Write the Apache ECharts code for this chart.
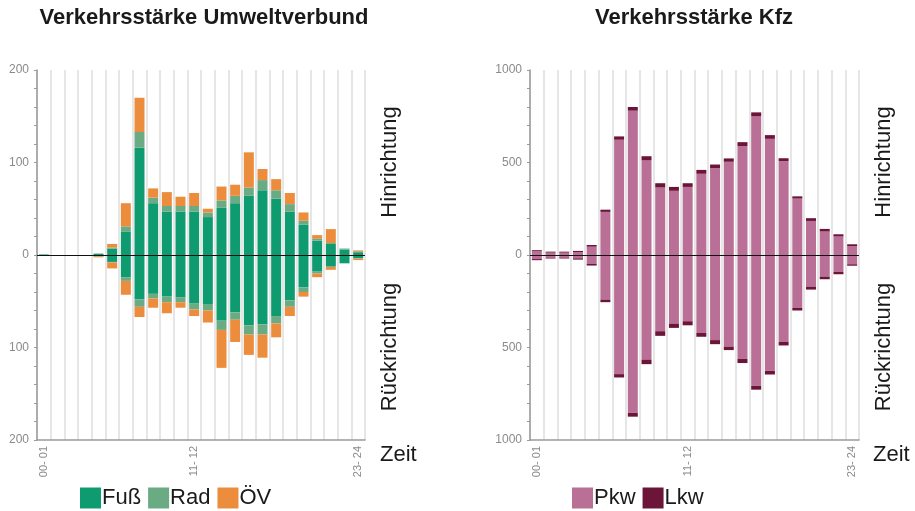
<!DOCTYPE html>
<html>
<head>
<meta charset="utf-8">
<script src="https://cdn.jsdelivr.net/npm/echarts@6/dist/echarts.min.js"></script>
<style>
  html, body { margin: 0; padding: 0; background: #fff; }
  #chart { width: 915px; height: 511px; }
</style>
</head>
<body>
<div id="chart"></div>
<script>
var hours = ['00- 01', '01- 02', '02- 03', '03- 04', '04- 05', '05- 06', '06- 07', '07- 08',
  '08- 09', '09- 10', '10- 11', '11- 12', '12- 13', '13- 14', '14- 15', '15- 16',
  '16- 17', '17- 18', '18- 19', '19- 20', '20- 21', '21- 22', '22- 23', '23- 24'];

// Umweltverbund, Hinrichtung (positiv)
var fussHin = [0.6, 0, 0, 0, 1.5, 7, 25, 116, 56, 47, 47, 47, 41, 51, 56, 64, 70, 61, 47, 33, 15.5, 12, 6, 3];
var radHin = [0, 0, 0, 0, 0, 1, 6, 17, 6, 6, 6, 6, 5, 8, 8, 9, 11, 9, 8, 4, 2, 1, 1, 1];
var oevHin = [0, 0, 0, 0, 0, 4, 25, 37, 10, 15, 10, 14, 4, 15, 12, 38, 12, 12, 12, 9, 4, 15, 0, 1];
// Umweltverbund, Rückrichtung (negativ)
var fussRueck = [-1, 0, 0, 0, -1.5, -7.5, -24, -48, -42, -45, -46, -52, -53, -71, -62, -76, -75, -66, -49, -35, -18, -12, -9, -3.5];
var radRueck = [0, 0, 0, 0, 0, -0.5, -4, -8, -5, -6, -5, -7, -7, -10, -8, -10, -11, -8, -7, -5, -2, -1, 0, -0.5];
var oevRueck = [0, 0, 0, 0, -1, -6.5, -15, -11, -10, -12, -6, -7, -13, -41, -24, -22, -25, -15, -10, -5, -4, -3, 0, -1.5];

// Kfz
var pkwHin = [20, 13, 13, 16, 45, 233, 623, 780, 513, 365, 347, 368, 439, 469, 504, 588, 751, 628, 507, 305, 184, 127, 100, 47];
var lkwHin = [6, 5, 5, 6, 9, 12, 18, 20, 21, 23, 21, 20, 21, 20, 18, 22, 20, 20, 16, 12, 15, 14, 12, 11];
var pkwRueck = [-22, -14, -14, -18, -47, -241, -644, -853, -567, -412, -371, -358, -421, -460, -495, -561, -707, -626, -469, -286, -171, -117, -92, -50];
var lkwRueck = [-6, -5, -5, -7, -10, -14, -18, -21, -23, -25, -23, -22, -21, -22, -19, -23, -21, -20, -20, -14, -16, -14, -12, -8];

var shownLabels = [0, 11, 23];

var chartDom = document.getElementById('chart');
var myChart = echarts.init(chartDom);
var font = 'Liberation Sans, Arial, sans-serif';
var colors = { fuss: '#0f9b70', rad: '#6aab84', oev: '#ec8d3d', pkw: '#b96f96', lkw: '#6c1538' };

function xAxisFor(gridIndex) {
  return {
    type: 'category',
    gridIndex: gridIndex,
    data: hours,
    axisLine: { onZero: false, lineStyle: { color: '#9a9a9a', width: 1.5 } },
    axisTick: { show: false },
    splitLine: { show: true, interval: 0, lineStyle: { color: '#e6e6e6', width: 2 } },
    axisLabel: {
      rotate: 90,
      color: '#8a8a8a',
      fontFamily: font,
      fontSize: 11,
      margin: 6,
      interval: function (index) { return shownLabels.indexOf(index) >= 0; }
    }
  };
}

function yAxisFor(gridIndex, max, interval) {
  return {
    type: 'value',
    gridIndex: gridIndex,
    min: -max,
    max: max,
    interval: interval,
    axisLine: { show: true, lineStyle: { color: '#9a9a9a', width: 1.5 } },
    axisTick: { show: true, length: 3, lineStyle: { color: '#9a9a9a' } },
    minorTick: { show: true, splitNumber: 5, length: 3, lineStyle: { color: '#9a9a9a' } },
    splitLine: { show: false },
    axisLabel: {
      color: '#8a8a8a',
      fontFamily: font,
      fontSize: 12,
      margin: 8,
      formatter: function (v) { return Math.abs(v); }
    }
  };
}

var zeroLine = {
  silent: true,
  symbol: 'none',
  label: { show: false },
  lineStyle: { color: '#111', width: 1, type: 'solid' },
  data: [{ yAxis: 0 }]
};

function bar(name, data, color, axis, stack) {
  return {
    name: name,
    type: 'bar',
    xAxisIndex: axis,
    yAxisIndex: axis,
    stack: stack,
    barWidth: 10,
    data: data,
    itemStyle: { color: color }
  };
}

var series = [
  bar('Fuß', fussHin, colors.fuss, 0, 'uv'),
  bar('Rad', radHin, colors.rad, 0, 'uv'),
  bar('ÖV', oevHin, colors.oev, 0, 'uv'),
  bar('Fuß', fussRueck, colors.fuss, 0, 'uv'),
  bar('Rad', radRueck, colors.rad, 0, 'uv'),
  bar('ÖV', oevRueck, colors.oev, 0, 'uv'),
  bar('Pkw', pkwHin, colors.pkw, 1, 'kfz'),
  bar('Lkw', lkwHin, colors.lkw, 1, 'kfz'),
  bar('Pkw', pkwRueck, colors.pkw, 1, 'kfz'),
  bar('Lkw', lkwRueck, colors.lkw, 1, 'kfz')
];
series[0].markLine = zeroLine;
series[6].markLine = zeroLine;

function sideText(text, x, y, rotated, bold) {
  return {
    type: 'text',
    x: x,
    y: y,
    rotation: rotated ? Math.PI / 2 : 0,
    style: {
      text: text,
      fill: '#1a1a1a',
      font: (bold ? 'bold ' : '') + '22px ' + font,
      textAlign: rotated || bold ? 'center' : 'left',
      textVerticalAlign: 'middle'
    }
  };
}

var legendBase = {
  top: 487, padding: 0,
  icon: 'rect', itemWidth: 21, itemHeight: 21, itemGap: 7,
  textStyle: { fontSize: 22, color: '#1a1a1a', fontFamily: font, padding: [0, 0, 0, -4] }
};

var option = {
  animation: false,
  grid: [
    { left: 37, top: 70, width: 328, height: 370 },
    { left: 530, top: 70, width: 329, height: 370 }
  ],
  xAxis: [xAxisFor(0), xAxisFor(1)],
  yAxis: [yAxisFor(0, 200, 100), yAxisFor(1, 1000, 500)],
  legend: [
    Object.assign({}, legendBase, { data: ['Fuß', 'Rad', 'ÖV'], left: 80 }),
    Object.assign({}, legendBase, { data: ['Pkw', 'Lkw'], left: 572 })
  ],
  graphic: [
    sideText('Verkehrsstärke Umweltverbund', 204, 18, false, true),
    sideText('Verkehrsstärke Kfz', 694, 18, false, true),
    sideText('Hinrichtung', 390, 162, true),
    sideText('Rückrichtung', 390, 347, true),
    sideText('Zeit', 380, 455, false),
    sideText('Hinrichtung', 884, 162, true),
    sideText('Rückrichtung', 884, 347, true),
    sideText('Zeit', 873, 455, false)
  ],
  series: series
};

myChart.setOption(option);
</script>
</body>
</html>
